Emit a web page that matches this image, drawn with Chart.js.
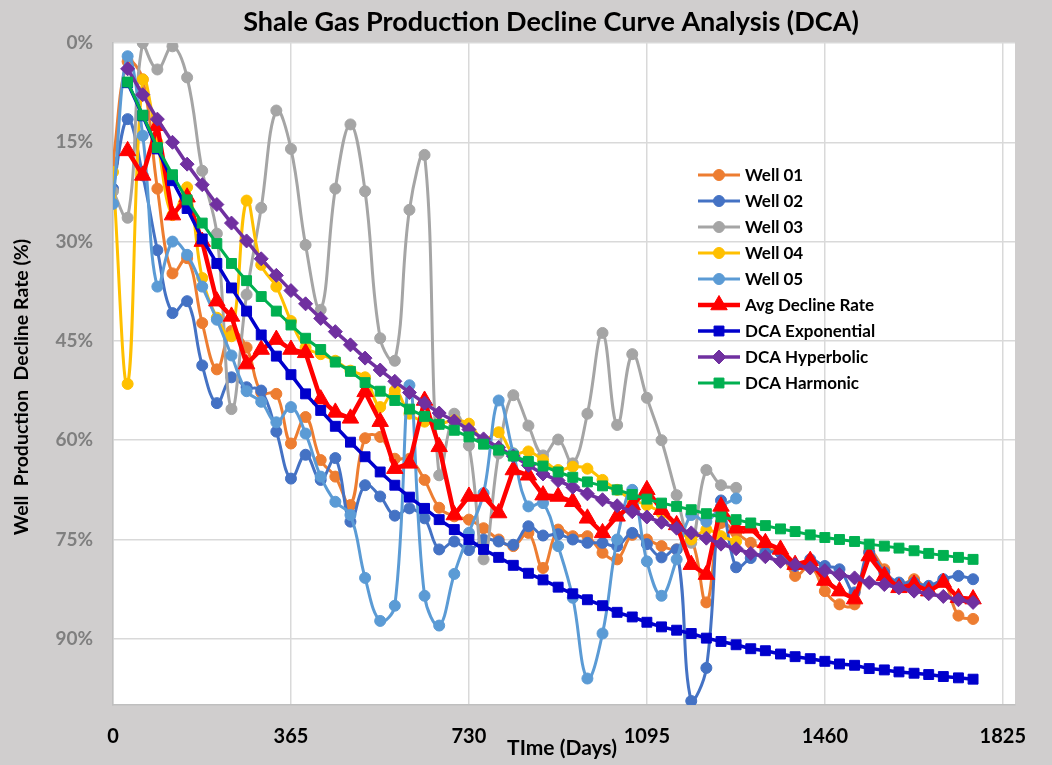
<!DOCTYPE html>
<html>
<head>
<meta charset="utf-8">
<script src="https://cdn.jsdelivr.net/npm/chart.js@4.4.1/dist/chart.umd.min.js"></script>
<style>
  html, body { margin: 0; padding: 0; background: #D0CECE; }
  #wrap { width: 1052px; height: 765px; }
</style>
</head>
<body>
<div id="wrap"><canvas id="dca"></canvas></div>
<script>
// days since first production (monthly steps)
const days = [0, 30, 61, 91, 122, 152, 183, 213, 243, 274, 304, 335, 365, 395, 426, 456, 487, 517, 548, 578,
  608, 639, 669, 700, 730, 760, 791, 821, 852, 882, 913, 943, 973, 1004, 1034, 1065, 1095, 1125, 1156, 1186,
  1217, 1247, 1278, 1308, 1338, 1369, 1399, 1430, 1460, 1490, 1521, 1551, 1582, 1612, 1643, 1673, 1703, 1734, 1764];

const well01 = [18, 2.8, 5.5, 22, 34.8, 32.5, 42.3, 49.3, 43.5, 46, 52.8, 53, 60.5, 56.5, 63, 65.5, 69.8, 59.7, 59.5, 62.8,
  62.8, 66, 70.2, 71.5, 72, 73.3, 75, 76, 74, 79.3, 73.5, 74.5, 74.5, 77, 78, 74.3, 75, 76, 76.5, 75,
  84.5, 72.5, 74, 75.5, 76.5, 77, 80.5, 79, 82.8, 84.8, 84.8, 76.8, 79.5, 82, 81, 82.5, 81.3, 86.5, 87];
const well02 = [22, 11.5, 20, 31.3, 40.8, 39, 48.7, 54.4, 50.5, 52, 52.5, 58.7, 65.8, 62.2, 66, 62.7, 72.3, 66.8, 68.5, 71.4,
  70.3, 71.8, 76.5, 75.3, 76.6, 75, 75.3, 75.8, 73, 74.4, 74.2, 75, 75.5, 75.5, 76, 74, 75.7, 77.7, 76.5, 99.4,
  94.4, 69.1, 79.2, 77.8, 77, 77, 79, 78, 79, 79.5, 83, 77, 80, 81.5, 81.5, 82, 81, 80.5, 81];
const well03 = [22.4, 26.4, 0, 4, 0.5, 5.2, 19.3, 28.8, 55.3, 38, 24.9, 10.2, 16, 30.5, 40.3, 22, 12.3, 22.4, 44.6, 48,
  25.2, 16.9, 65.3, 56, 60.8, 78, 62, 53.2, 57.8, 62.3, 59.9, 63.5, 56, 43.8, 57.7, 47, 53.6, 60, 68.3, 75.5,
  64.5, 66.8, 67.2];
const well04 = [19.5, 51.5, 5.5, 15, 26, 21.8, 35.5, 41.5, 44.3, 23.8, 33.5, 36.8, 42, 46, 47, 48, 49.5, 50.5, 55, 52.5,
  56, 57.2, 57.5, 57, 57.5, 60, 58.8, 62, 61.7, 63, 64.5, 64, 64.3, 66, 67.5, 69, 69.8, 71, 73, 75,
  73.5, 74.5, 75.3];
const well05 = [24.3, 2, 14, 36.8, 30, 32, 36.8, 41.8, 47.2, 52.6, 54.2, 57.3, 55, 59, 65.5, 69.3, 71.3, 80.8, 87.3, 85,
  51.7, 83.5, 88, 80.2, 74, 68, 54, 62, 70, 69.5, 76, 83.8, 96, 89.2, 75, 67.5, 78.3, 83.5, 78, 71.3,
  72.3, 70, 68.8];
const avgDecline = [null, 16.3, 20, 12.5, 26, 23.3, 30, 39, 41.3, 48.5, 46.3, 44.8, 46.3, 46.8, 53.8, 55.8, 56.7, 52.7, 57.2, 64.3,
  63.5, 54, 61, 71.3, 68.5, 68.5, 71, 64.5, 65.3, 68.3, 68.5, 69.3, 71.8, 74, 71.5, 69.8, 67.5, 70.5, 72.8, 78.8,
  80.3, 70, 73.3, 73.3, 75.5, 76.5, 78.8, 78.2, 81.2, 82.8, 84, 77.5, 80.5, 82.3, 81.8, 82.8, 81.5, 83.8, 84];
const dcaExponential = [null, 6, 11, 16, 20.8, 25, 29.6, 33.3, 37, 40.5, 44.1, 47.3, 50.1, 53, 55.5, 57.9, 60.3, 62.5, 64.8, 66.8,
  68.6, 70.3, 72, 73.5, 75, 76.5, 77.7, 78.9, 80.1, 81.1, 82.2, 83.2, 84.1, 85, 86, 86.7, 87.5, 88.2, 88.7, 89.2,
  89.9, 90.4, 90.9, 91.5, 91.8, 92.3, 92.7, 93, 93.4, 93.8, 94, 94.5, 94.7, 95, 95.2, 95.4, 95.7, 95.9, 96.1];
const dcaHyperbolic = [null, 3.9, 7.8, 11.5, 15, 18.3, 21.4, 24.4, 27.2, 29.9, 32.6, 35.1, 37.4, 39.4, 41.6, 43.6, 45.6, 47.6, 49.4, 51.1,
  52.8, 54.4, 55.9, 57.1, 58.4, 59.8, 61.1, 62.4, 63.8, 65.1, 66.1, 67.1, 68.1, 69, 69.9, 70.8, 71.6, 72.4, 73.3, 74,
  74.8, 75.7, 76.4, 77.1, 77.6, 78.3, 78.8, 79.3, 79.7, 80.3, 80.8, 81.5, 81.8, 82.3, 82.8, 83.2, 83.6, 84.1, 84.5];
const dcaHarmonic = [null, 5.9, 10.9, 15.8, 19.9, 23.7, 27.2, 30.3, 33.3, 35.9, 38.3, 40.5, 42.6, 44.6, 46.3, 48.2, 49.6, 51.3, 52.6, 54,
  55.3, 56.4, 57.6, 58.5, 59.5, 60.6, 61.5, 62.4, 63.2, 63.9, 64.8, 65.6, 66.3, 66.9, 67.5, 68.2, 68.9, 69.5, 70, 70.5,
  71.1, 71.6, 72, 72.5, 72.9, 73.4, 73.8, 74.3, 74.7, 75, 75.3, 75.7, 76, 76.3, 76.7, 77.1, 77.4, 77.7, 78];

const xTicks = [0, 365, 730, 1095, 1460, 1825];
const yTicks = [0, 15, 30, 45, 60, 75, 90];

const FONT = 'Lato, "Open Sans", sans-serif';

function toPoints(vals) {
  return days.map((d, i) => ({ x: d, y: vals[i] })).filter((p) => p.y != null);
}

function wellSet(label, vals, color, order) {
  return {
    label, data: toPoints(vals), borderColor: color, backgroundColor: color,
    borderWidth: 3, pointStyle: 'circle', pointRadius: 5.5, pointBorderWidth: 1,
    tension: 0.4, order,
  };
}

function markSet(label, vals, color, style, radius, width, order) {
  return {
    label, data: toPoints(vals), borderColor: color, backgroundColor: color,
    borderWidth: width, pointStyle: style, pointRadius: radius, pointBorderWidth: 1,
    tension: 0, order,
  };
}

const datasets = [
  wellSet('Well 01', well01, '#ED7D31', 8),
  wellSet('Well 02', well02, '#4472C4', 7),
  wellSet('Well 03', well03, '#A5A5A5', 6),
  wellSet('Well 04', well04, '#FFC000', 5),
  wellSet('Well 05', well05, '#5B9BD5', 4),
  markSet('Avg Decline Rate', avgDecline, '#FF0000', 'triangle', 9.5, 4.5, 3),
  markSet('DCA Exponential', dcaExponential, '#0000CC', 'rect', 7, 3.5, 2),
  markSet('DCA Hyperbolic', dcaHyperbolic, '#7030A0', 'rectRot', 7, 3.5, 1),
  markSet('DCA Harmonic', dcaHarmonic, '#00B050', 'rect', 7, 3, 0),
];

const backdrop = {
  id: 'backdrop',
  beforeDraw(chart) {
    const { ctx, chartArea: a } = chart;
    ctx.save();
    ctx.fillStyle = '#D0CECE';
    ctx.fillRect(0, 0, chart.width, chart.height);
    ctx.fillStyle = '#FFFFFF';
    ctx.fillRect(a.left, a.top, a.right - a.left, a.bottom - a.top);
    ctx.restore();
  },
};

// chart title and axis titles sit where Excel put them, not where Chart.js would
const titles = {
  id: 'titles',
  afterDraw(chart) {
    const { ctx } = chart;
    ctx.save();
    ctx.fillStyle = '#000000';
    ctx.textAlign = 'center';
    ctx.textBaseline = 'middle';
    ctx.font = 'bold 27px ' + FONT;
    ctx.fillText('Shale Gas Production Decline Curve Analysis (DCA)', 551, 22);
    ctx.font = 'bold 21px ' + FONT;
    ctx.fillText('TIme (Days)', 562, 748);
    ctx.translate(22, 387);
    ctx.rotate(-Math.PI / 2);
    ctx.font = 'bold 19.5px ' + FONT;
    ctx.fillText('Well  Production  Decline Rate (%)', 0, 0);
    ctx.restore();
  },
};

const insideLegend = {
  id: 'insideLegend',
  afterDraw(chart) {
    const { ctx } = chart;
    const x0 = 698, y0 = 175, gap = 26;
    chart.data.datasets.forEach((ds, i) => {
      const y = y0 + i * gap;
      ctx.save();
      ctx.strokeStyle = ds.borderColor;
      ctx.lineWidth = ds.borderWidth;
      ctx.beginPath();
      ctx.moveTo(x0, y);
      ctx.lineTo(x0 + 42, y);
      ctx.stroke();
      ctx.fillStyle = ds.backgroundColor;
      ctx.lineWidth = 1;
      Chart.helpers.drawPoint(ctx, { pointStyle: ds.pointStyle, radius: ds.pointRadius, borderWidth: 1 }, x0 + 21, y);
      ctx.fillStyle = '#000000';
      ctx.font = 'bold 17px ' + FONT;
      ctx.textAlign = 'left';
      ctx.textBaseline = 'middle';
      ctx.fillText(ds.label, x0 + 47, y + 1);
      ctx.restore();
    });
  },
};

new Chart(document.getElementById('dca'), {
  type: 'line',
  data: { datasets },
  plugins: [backdrop, titles, insideLegend],
  options: {
    responsive: true,
    maintainAspectRatio: false,
    animation: false,
    layout: { padding: { top: 43, left: 0, right: 37, bottom: 0 } },
    plugins: {
      legend: { display: false },
      tooltip: { enabled: false },
      title: { display: false },
    },
    scales: {
      x: {
        type: 'linear',
        min: 0,
        max: 1850,
        afterFit(scale) { scale.height = 60; },
        afterBuildTicks(scale) { scale.ticks = xTicks.map((v) => ({ value: v })); },
        grid: { color: '#D9D9D9', lineWidth: 1.5, drawTicks: false },
        border: { display: true, color: '#BFBFBF', width: 1.5 },
        ticks: {
          padding: 20,
          color: '#000000',
          maxRotation: 0,
          font: { family: FONT, size: 20, weight: 'bold' },
          callback: (v) => String(v),
        },
      },
      y: {
        type: 'linear',
        reverse: true,
        min: 0,
        max: 100,
        afterFit(scale) { scale.width = 113; },
        afterBuildTicks(scale) { scale.ticks = yTicks.map((v) => ({ value: v })); },
        grid: { color: '#D9D9D9', lineWidth: 1.5, drawTicks: false },
        border: { display: true, color: '#BFBFBF', width: 1.5 },
        ticks: {
          padding: 20,
          color: '#7F7F7F',
          font: { family: FONT, size: 19, weight: 'bold' },
          callback: (v) => v + '%',
        },
      },
    },
  },
});
</script>
</body>
</html>
